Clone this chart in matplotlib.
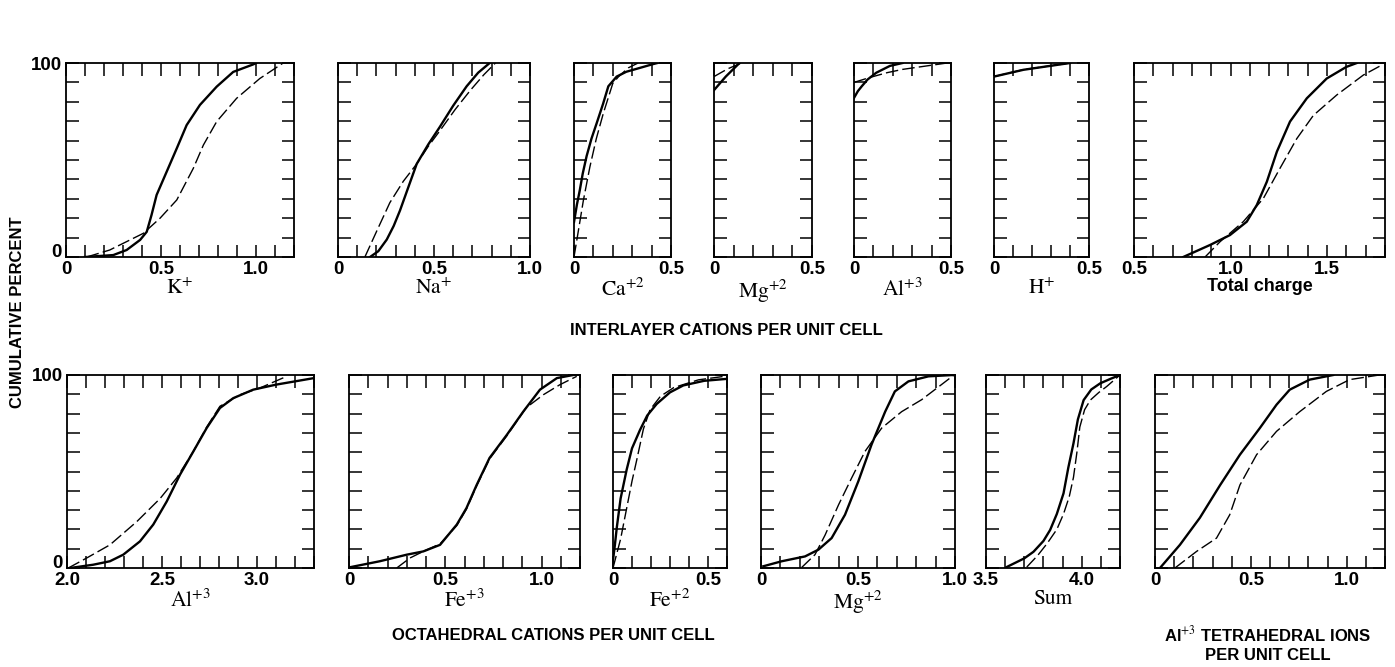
import matplotlib
matplotlib.use("Agg")
import matplotlib.pyplot as plt
import numpy as np

plt.rcParams["font.family"] = ["Liberation Sans", "DejaVu Sans"]
plt.rcParams["mathtext.fontset"] = "stix"

# ---- data (x value, cumulative percent) ----
k_solid_x = [0.10, 0.249, 0.319, 0.39, 0.425, 0.45, 0.477, 0.53, 0.583, 0.635, 0.705, 0.793, 0.88, 0.986, 1.0]
k_solid_y = [0, 1, 3.6, 8.8, 13, 21.6, 32, 44, 56, 68, 78.4, 87.8, 95.4, 99.3, 100]
k_dash_x = [0.109, 0.23, 0.407, 0.495, 0.583, 0.67, 0.723, 0.793, 0.898, 1.02, 1.14]
k_dash_y = [0, 3.6, 12.2, 20, 29.4, 45.7, 57.7, 69.8, 81.8, 92, 99.8]

na_solid_x = [0.167, 0.21, 0.254, 0.29, 0.323, 0.37, 0.41, 0.47, 0.53, 0.60, 0.67, 0.73, 0.79]
na_solid_y = [0, 3, 9, 16, 24, 37, 48, 58, 67, 78, 88, 95, 100]
na_dash_x = [0.14, 0.20, 0.27, 0.34, 0.41, 0.47, 0.53, 0.61, 0.69, 0.76, 0.82]
na_dash_y = [0, 13, 28, 39, 48, 57, 65, 76, 86, 94, 100]

ca_solid_x = [0.0, 0.015, 0.03, 0.045, 0.065, 0.09, 0.117, 0.15, 0.177, 0.22, 0.27, 0.323, 0.41, 0.43]
ca_solid_y = [18, 27, 34.5, 43, 52, 61, 69, 79, 88, 93, 95.5, 97, 99.5, 100]
ca_dash_x = [0.0, 0.02, 0.048, 0.082, 0.115, 0.151, 0.20, 0.23, 0.28, 0.33]
ca_dash_y = [0, 12, 29, 46.5, 61, 74, 89.5, 93, 97.5, 100]

mg_solid_x = [0.0, 0.06, 0.13]
mg_solid_y = [86, 93, 100]
mg_dash_x = [0.0, 0.07, 0.14]
mg_dash_y = [93, 97, 100]

al_solid_x = [0.0, 0.02, 0.04, 0.07, 0.115, 0.185, 0.25]
al_solid_y = [82, 85.5, 88, 91.5, 95, 98.5, 100]
al_dash_x = [0.0, 0.08, 0.17, 0.25, 0.34, 0.48]
al_dash_y = [90, 92.5, 95, 96.7, 98, 100]

h_solid_x = [0.0, 0.155, 0.365, 0.40]
h_solid_y = [93, 96.5, 99.5, 100]
h_dash_x = [0.0, 0.155, 0.365, 0.40]
h_dash_y = [93, 96.6, 99.5, 100]

tc_solid_x = [0.755, 0.894, 0.997, 1.084, 1.136, 1.188, 1.24, 1.308, 1.395, 1.498, 1.60, 1.654]
tc_solid_y = [0, 6.2, 11.3, 18.2, 26.8, 38.8, 54.3, 69.8, 81.8, 92, 98, 100]
tc_dash_x = [0.868, 0.946, 1.066, 1.17, 1.256, 1.343, 1.429, 1.55, 1.688, 1.79]
tc_dash_y = [0, 7.9, 18.2, 30.2, 45.7, 61, 73, 83.5, 93.8, 99.3]

alo_solid_x = [2.016, 2.138, 2.226, 2.296, 2.384, 2.454, 2.525, 2.595, 2.665, 2.735, 2.805, 2.875, 2.98, 3.1, 3.3]
alo_solid_y = [0, 1.7, 3.5, 6.9, 13.8, 22.5, 34.5, 48.4, 60.4, 72.5, 82.9, 88, 92.4, 95, 98.4]
alo_dash_x = [2.007, 2.104, 2.226, 2.367, 2.49, 2.577, 2.665, 2.735, 2.805, 2.91, 3.016, 3.156]
alo_dash_y = [0, 5.2, 12, 24, 36, 46.6, 60.4, 73, 83.8, 89.8, 93.3, 99.3]

fe3_solid_x = [0.0, 0.16, 0.30, 0.386, 0.473, 0.56, 0.61, 0.663, 0.73, 0.82, 0.905, 0.992, 1.08, 1.165]
fe3_solid_y = [0.3, 3.5, 6.9, 8.6, 12, 22.5, 31, 43, 57, 69, 81, 92.4, 98.4, 100]
fe3_dash_x = [0.248, 0.317, 0.386, 0.473, 0.56, 0.61, 0.663, 0.73, 0.82, 0.92, 1.01, 1.096, 1.183]
fe3_dash_y = [0, 5.2, 8.6, 12.5, 22, 30.5, 42.5, 56.5, 68.5, 83, 89.8, 95, 99.3]

fe2_solid_x = [0.0, 0.01, 0.02, 0.04, 0.072, 0.10, 0.142, 0.18, 0.23, 0.30, 0.37, 0.48, 0.60]
fe2_solid_y = [4, 12, 21, 36, 51, 62, 71.5, 79, 85, 91, 94.6, 97, 98]
fe2_dash_x = [0.0, 0.04, 0.072, 0.10, 0.125, 0.16, 0.195, 0.25, 0.32, 0.45, 0.60]
fe2_dash_y = [0, 15, 31, 45, 56, 72, 82, 89, 93.5, 97.5, 99.5]

mgo_solid_x = [0.012, 0.107, 0.227, 0.296, 0.364, 0.433, 0.502, 0.57, 0.64, 0.69, 0.76, 0.863, 0.99]
mgo_solid_y = [0.9, 3.5, 6, 9.5, 15.5, 27.6, 45, 64, 81, 91.5, 96.7, 99.3, 100]
mgo_dash_x = [0.21, 0.278, 0.33, 0.40, 0.467, 0.536, 0.622, 0.725, 0.828, 0.93, 0.995]
mgo_dash_y = [0.3, 6.9, 17, 32.8, 46.6, 60.4, 72.5, 81, 87.2, 95, 100]

sum_solid_x = [3.608, 3.70, 3.748, 3.80, 3.835, 3.87, 3.905, 3.93, 3.957, 3.98, 4.01, 4.05, 4.097, 4.15, 4.2]
sum_solid_y = [0.5, 5, 8.4, 14, 19.7, 28, 38.7, 52, 64.6, 77, 87, 92.5, 95.7, 98, 100]
sum_dash_x = [3.713, 3.77, 3.82, 3.87, 3.905, 3.935, 3.957, 3.975, 3.99, 4.015, 4.045, 4.09, 4.13, 4.2]
sum_dash_y = [0.5, 6.5, 12.8, 20, 28, 37, 47, 60, 73, 82, 87, 91, 94, 100]

alt_solid_x = [0.026, 0.13, 0.234, 0.34, 0.443, 0.547, 0.634, 0.703, 0.807, 0.93]
alt_solid_y = [0, 12, 26, 43, 58.7, 72.5, 84.6, 92.4, 97.6, 100]
alt_dash_x = [0.104, 0.217, 0.321, 0.39, 0.443, 0.53, 0.634, 0.755, 0.894, 1.015, 1.17]
alt_dash_y = [0, 8.6, 15.5, 27.6, 43, 58.7, 70.8, 81, 91.5, 97.6, 100]

# ---- panel layout: (row, left px, right px, xmin, xmax, labelled ticks, name) ----
W, H = 1395, 667
top_row = (63, 257)
bot_row = (375, 568)

panels = [
    (top_row, 66, 294, 0.0, 1.2, [0, 0.5, 1.0], "K$^{+}$", k_solid_x, k_solid_y, k_dash_x, k_dash_y, True),
    (top_row, 338, 530, 0.0, 1.0, [0, 0.5, 1.0], "Na$^{+}$", na_solid_x, na_solid_y, na_dash_x, na_dash_y, False),
    (top_row, 574, 671, 0.0, 0.5, [0, 0.5], "Ca$^{+2}$", ca_solid_x, ca_solid_y, ca_dash_x, ca_dash_y, False),
    (top_row, 714, 812, 0.0, 0.5, [0, 0.5], "Mg$^{+2}$", mg_solid_x, mg_solid_y, mg_dash_x, mg_dash_y, False),
    (top_row, 854, 951, 0.0, 0.5, [0, 0.5], "Al$^{+3}$", al_solid_x, al_solid_y, al_dash_x, al_dash_y, False),
    (top_row, 994, 1089, 0.0, 0.5, [0, 0.5], "H$^{+}$", h_solid_x, h_solid_y, h_dash_x, h_dash_y, False),
    (top_row, 1134, 1385, 0.5, 1.8, [0.5, 1.0, 1.5], "Total charge", tc_solid_x, tc_solid_y, tc_dash_x, tc_dash_y, False),
    (bot_row, 67, 314, 2.0, 3.3, [2.0, 2.5, 3.0], "Al$^{+3}$", alo_solid_x, alo_solid_y, alo_dash_x, alo_dash_y, True),
    (bot_row, 349, 580, 0.0, 1.2, [0, 0.5, 1.0], "Fe$^{+3}$", fe3_solid_x, fe3_solid_y, fe3_dash_x, fe3_dash_y, False),
    (bot_row, 613, 727, 0.0, 0.6, [0, 0.5], "Fe$^{+2}$", fe2_solid_x, fe2_solid_y, fe2_dash_x, fe2_dash_y, False),
    (bot_row, 761, 955, 0.0, 1.0, [0, 0.5, 1.0], "Mg$^{+2}$", mgo_solid_x, mgo_solid_y, mgo_dash_x, mgo_dash_y, False),
    (bot_row, 986, 1120, 3.5, 4.2, [3.5, 4.0], "Sum", sum_solid_x, sum_solid_y, sum_dash_x, sum_dash_y, False),
    (bot_row, 1155, 1385, 0.0, 1.2, [0, 0.5, 1.0], None, alt_solid_x, alt_solid_y, alt_dash_x, alt_dash_y, False),
]

fig = plt.figure(figsize=(W / 100, H / 100), dpi=100)


def fmt(v):
    return "0" if v == 0 else "%.1f" % v


for row, x0, x1, xmin, xmax, labelled, name, sx, sy, dx, dy, first in panels:
    y0, y1 = row
    ax = fig.add_axes([x0 / W, 1 - y1 / H, (x1 - x0) / W, (y1 - y0) / H])
    ax.plot(sx, sy, color="black", lw=1.7, solid_joinstyle="round")
    ax.plot(dx, dy, color="black", lw=1.0, dashes=(9, 3))
    ax.set_xlim(xmin, xmax)
    ax.set_ylim(0, 100)
    minor = np.round(np.arange(xmin, xmax + 1e-9, 0.1), 2)
    ax.set_xticks(minor)
    ax.set_xticklabels([fmt(v) if any(abs(v - l) < 1e-6 for l in labelled) else "" for v in minor])
    ax.set_yticks(np.arange(0, 101, 10))
    if first:
        ax.set_yticklabels(["0"] + [""] * 9 + ["100"])
        ax.get_yticklabels()[0].set_va("baseline")
    else:
        ax.set_yticklabels([])
    ax.tick_params(direction="in", length=9, width=1.1, top=True, right=True,
                   labelsize=13.5, pad=3)
    for lab in ax.get_xticklabels() + ax.get_yticklabels():
        lab.set_fontweight("bold")
    for sp in ax.spines.values():
        sp.set_linewidth(1.3)
    if name == "Total charge":
        ax.set_xlabel(name, fontsize=13, fontweight="bold", labelpad=0)
    elif name:
        ax.set_xlabel(name, fontsize=15.5, family="STIXGeneral", labelpad=0)

fs = 12
fig.text(18 / W, 1 - 312 / H, "CUMULATIVE PERCENT", rotation=90, ha="center", va="center",
         fontsize=fs, fontweight="bold")
fig.text(726 / W, 1 - 331 / H, "INTERLAYER CATIONS PER UNIT CELL", ha="center", va="center",
         fontsize=fs, fontweight="bold")
fig.text(553 / W, 1 - 636 / H, "OCTAHEDRAL CATIONS PER UNIT CELL", ha="center", va="center",
         fontsize=fs, fontweight="bold")
fig.text(1268 / W, 1 - 634 / H, r"Al$^{+3}$ TETRAHEDRAL IONS", ha="center", va="center",
         fontsize=fs, fontweight="bold")
fig.text(1268 / W, 1 - 655 / H, "PER UNIT CELL", ha="center", va="center",
         fontsize=fs, fontweight="bold")

fig.savefig("out.png", dpi=100, facecolor="white")
